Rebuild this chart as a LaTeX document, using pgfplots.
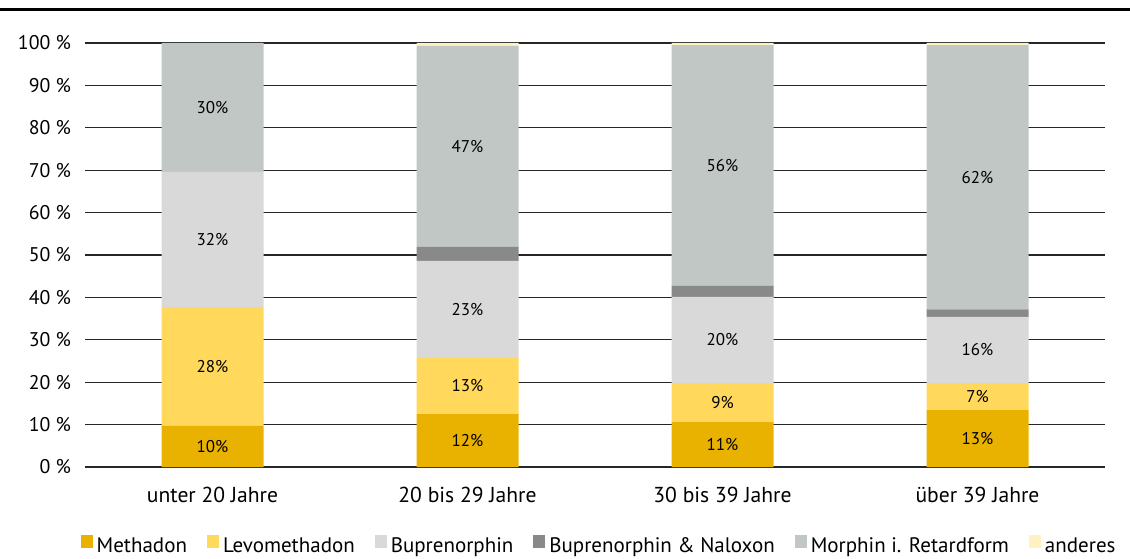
\documentclass[border=0pt]{standalone}
\usepackage{fontspec}
\setmainfont{PT Sans}
\usepackage{pgfplots}
\pgfplotsset{compat=1.18}
\usepackage{pgfplotstable}

\definecolor{cMeth}{HTML}{E9B200}
\definecolor{cLevo}{HTML}{FFD85C}
\definecolor{cBup}{HTML}{D9D9D9}
\definecolor{cBN}{HTML}{898989}
\definecolor{cMor}{HTML}{C1C7C4}
\definecolor{cAnd}{HTML}{FFF1C2}

% shares in percent, labels as printed in the bars
\pgfplotstableread{
x meth levo bup bn mor oth ml ll bl ol
0 9.7 28.0 31.9 0.0 30.4 0.0 10 28 32 30
1 12.5 13.2 22.9 3.3 47.4 0.7 12 13 23 47
2 10.6 9.2 20.3 2.6 56.8 0.5 11 9 20 56
3 13.4 6.4 15.6 1.8 62.3 0.5 13 7 16 62
}\data

% stacked bars put these labels in the middle of each segment
\pgfplotsset{
  seglabel/.style={
    nodes near coords={\pgfmathprintnumber{\pgfplotspointmeta}\%},
    point meta=explicit,
    every node near coord/.append style={font=\fontsize{8.5}{10}\selectfont, text=black},
  },
}

\begin{document}
\begin{tikzpicture}
\path[use as bounding box] (0,0) rectangle (565pt,279pt);
\draw[line width=1.5pt] (0,274pt) -- (565pt,274pt);
\begin{axis}[
  at={(42.5pt,45.5pt)}, anchor=south west,
  scale only axis, width=510pt, height=212pt,
  ybar stacked, bar width=0.4,
  xmin=-0.5, xmax=3.5, ymin=0, ymax=100,
  xtick=data,
  xticklabels={unter 20 Jahre, 20 bis 29 Jahre, 30 bis 39 Jahre, über 39 Jahre},
  ytick={0,10,...,100},
  yticklabel={\pgfmathprintnumber{\tick}~\%},
  /pgf/number format/assume math mode=true,
  yticklabel style={font=\fontsize{9.9}{11}\selectfont, xshift=-3.5pt},
  xticklabel style={font=\fontsize{10.8}{12}\selectfont, yshift=-6.5pt},
  major tick length=0pt,
  axis line style={draw=none},
  ymajorgrids, grid style={black!85, line width=0.6pt},
  clip=false,
  legend columns=6,
  legend style={at={(0.505,-0.187)}, anchor=center, draw=none, fill=none,
    font=\fontsize{10.5}{12}\selectfont,
    /tikz/every even column/.append style={column sep=8pt}},
  legend image code/.code={\fill[#1] (0pt,-0.8pt) rectangle (6pt,5.5pt);},
]
\addplot[fill=cMeth, draw=none, seglabel] table[x=x, y=meth, meta=ml]{\data};
\addplot[fill=cLevo, draw=none, seglabel] table[x=x, y=levo, meta=ll]{\data};
\addplot[fill=cBup, draw=none, seglabel] table[x=x, y=bup, meta=bl]{\data};
\addplot[fill=cBN, draw=none] table[x=x, y=bn]{\data};
\addplot[fill=cMor, draw=none, seglabel] table[x=x, y=mor, meta=ol]{\data};
\addplot[fill=cAnd, draw=none] table[x=x, y=oth]{\data};
\legend{Methadon, Levomethadon, Buprenorphin, Buprenorphin \& Naloxon, Morphin i. Retardform, anderes}
\end{axis}
\end{tikzpicture}
\end{document}
